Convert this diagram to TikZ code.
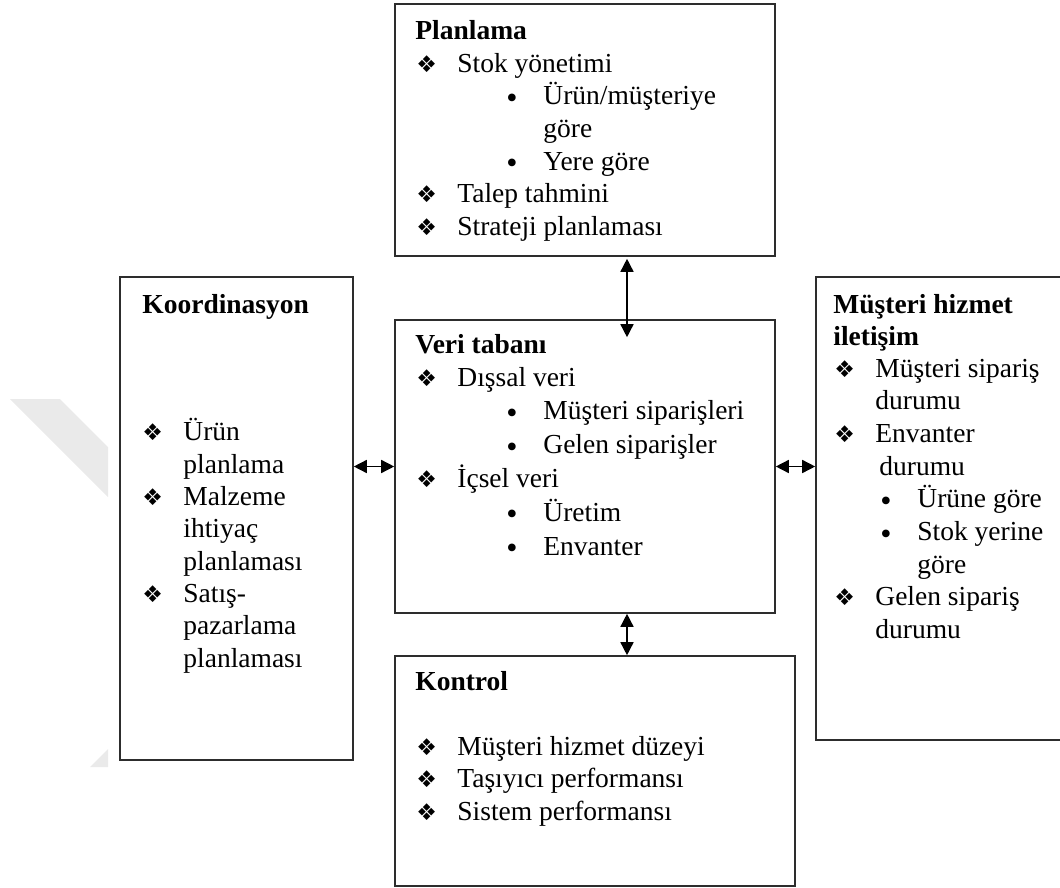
\documentclass[tikz,border=0pt]{standalone}
\usepackage{fontspec}
\setmainfont{Liberation Serif}
\newfontfamily\dingfont{DejaVu Sans}
\usepackage{tikz}
\usetikzlibrary{positioning, arrows.meta}
\definecolor{boxline}{RGB}{45,45,45}
\definecolor{wmgray}{RGB}{234,234,234}
\newcommand{\dia}{\makebox[21pt][l]{\hspace*{0.5pt}{\dingfont\fontsize{11.5}{11.5}\selectfont ❖}}}
\newcommand{\bul}[1]{\hspace*{#1}\makebox[18.5pt][l]{\raisebox{-1.8pt}{\fontsize{16}{16}\selectfont •}}}
\tikzset{
    boxnode/.style={rectangle, draw=boxline, line width=0.8pt, fill=white},
    titletext/.style={anchor=base west, inner sep=0pt, align=left, font=\fontsize{13.75}{16.2}\selectfont\bfseries},
    listtext/.style={anchor=base west, inner sep=0pt, align=left, font=\fontsize{13.75}{16.35}\selectfont},
    dubarrow/.style={{Triangle[length=6.5pt,width=6.5pt]}-{Triangle[length=6.5pt,width=6.5pt]}, line width=0.75pt}
}

\begin{document}
\begin{tikzpicture}[x=0.5pt, y=-0.5pt]
    \useasboundingbox (0,0) rectangle (1060,888);
    % faint watermark
    \fill[wmgray] (10,399) -- (60,399) -- (108,447) -- (108,497) -- cycle;
    \fill[wmgray] (90,767) -- (108,749) -- (108,767) -- cycle;

    \node[boxnode, minimum width=190pt, minimum height=126pt] (plan) at (585,130) {};
    \node[boxnode, minimum width=190pt, minimum height=146.5pt] (veri) at (585,466.5) {};
    \node[boxnode, minimum width=116.5pt, minimum height=241.5pt] (koord) at (236.5,518.5) {};
    \node[boxnode, minimum width=125pt, minimum height=231.5pt] (mus) at (941,508.5) {};
    \node[boxnode, minimum width=200pt, minimum height=115pt] (kon) at (595,771) {};

    % texts: base anchor sits on the last line
    \node[titletext] (plan-title) at (415,39.5) {Planlama};
    \node[listtext] (plan-list) at (415,235.5) {\dia Stok yönetimi\\ \bul{45.5pt}Ürün/müşteriye\\ \hspace*{64pt}göre\\ \bul{45.5pt}Yere göre\\ \dia Talep tahmini\\ \dia Strateji planlaması};

    \node[titletext] (veri-title) at (415,353) {Veri tabanı};
    \node[listtext, font=\fontsize{13.75}{16.9}\selectfont] (veri-list) at (415,555) {\dia Dışsal veri\\ \bul{45.5pt}Müşteri siparişleri\\ \bul{45.5pt}Gelen siparişler\\ \dia İçsel veri\\ \bul{45.5pt}Üretim\\ \bul{45.5pt}Envanter};

    \node[titletext] (koord-title) at (142,313) {Koordinasyon};
    \node[listtext, font=\fontsize{13.75}{16.15}\selectfont] (koord-list) at (141,667) {\dia Ürün\\ \hspace*{21pt}planlama\\ \dia Malzeme\\ \hspace*{21pt}ihtiyaç\\ \hspace*{21pt}planlaması\\ \dia Satış-\\ \hspace*{21pt}pazarlama\\ \hspace*{21pt}planlaması};

    \node[titletext] (mus-title) at (833,345.4) {Müşteri hizmet\\iletişim};
    \node[listtext] (mus-list) at (833,638.6) {\dia Müşteri sipariş\\ \hspace*{21pt}durumu\\ \dia Envanter\\ \hspace*{23pt}durumu\\ \bul{23.5pt}Ürüne göre\\ \bul{23.5pt}Stok yerine\\ \hspace*{42pt}göre\\ \dia Gelen sipariş\\ \hspace*{21pt}durumu};

    \node[titletext] (kon-title) at (415,690) {Kontrol};
    \node[listtext] (kon-list) at (415,820.4) {\dia Müşteri hizmet düzeyi\\ \dia Taşıyıcı performansı\\ \dia Sistem performansı};

    \draw[dubarrow] ([xshift=21pt,yshift=-1pt]plan.south) -- ([xshift=21pt,yshift=-9pt]veri.north);
    \draw[dubarrow] ([xshift=21pt]veri.south) -- ([xshift=16pt]kon.north);
    \draw[dubarrow] (koord.east |- veri.west) -- (veri.west);
    \draw[dubarrow] (veri.east) -- (mus.west |- veri.east);
\end{tikzpicture}
\end{document}
